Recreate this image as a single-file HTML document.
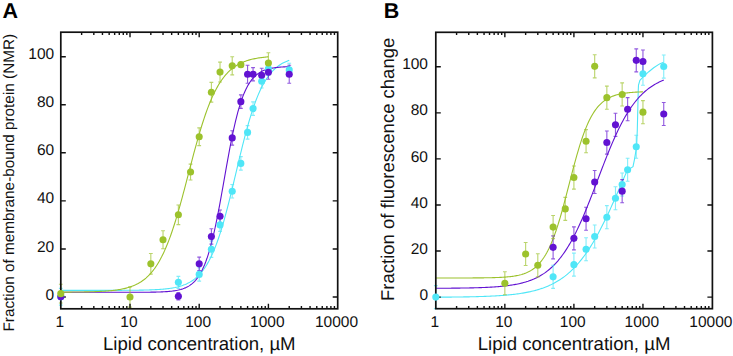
<!DOCTYPE html>
<html><head><meta charset="utf-8"><style>
html,body{margin:0;padding:0;background:#fff;}
svg{display:block;}
text{font-family:"Liberation Sans",sans-serif;fill:#111;text-rendering:geometricPrecision;}
.tk{font-size:15.5px;}
.xt{font-size:18.6px;}
.pl{font-size:21.5px;font-weight:bold;fill:#000;}
.yta{font-size:15.3px;}
.ytb{font-size:18.5px;}
</style></head><body>
<svg width="733" height="356" viewBox="0 0 733 356">
<rect width="733" height="356" fill="#fff"/>
<text x="54.20" y="299.60" text-anchor="end" class="tk">0</text>
<text x="54.20" y="251.54" text-anchor="end" class="tk">20</text>
<text x="54.20" y="203.48" text-anchor="end" class="tk">40</text>
<text x="54.20" y="155.42" text-anchor="end" class="tk">60</text>
<text x="54.20" y="107.36" text-anchor="end" class="tk">80</text>
<text x="54.20" y="59.30" text-anchor="end" class="tk">100</text>
<text x="59.70" y="326.6" text-anchor="middle" class="tk">1</text>
<text x="128.90" y="326.6" text-anchor="middle" class="tk">10</text>
<text x="198.10" y="326.6" text-anchor="middle" class="tk">100</text>
<text x="267.30" y="326.6" text-anchor="middle" class="tk">1000</text>
<text x="336.50" y="326.6" text-anchor="middle" class="tk">10000</text>
<text x="428.00" y="299.70" text-anchor="end" class="tk">0</text>
<text x="428.00" y="253.64" text-anchor="end" class="tk">20</text>
<text x="428.00" y="207.58" text-anchor="end" class="tk">40</text>
<text x="428.00" y="161.52" text-anchor="end" class="tk">60</text>
<text x="428.00" y="115.46" text-anchor="end" class="tk">80</text>
<text x="428.00" y="69.40" text-anchor="end" class="tk">100</text>
<text x="434.70" y="326.6" text-anchor="middle" class="tk">1</text>
<text x="503.75" y="326.6" text-anchor="middle" class="tk">10</text>
<text x="572.80" y="326.6" text-anchor="middle" class="tk">100</text>
<text x="641.85" y="326.6" text-anchor="middle" class="tk">1000</text>
<text x="710.90" y="326.6" text-anchor="middle" class="tk">10000</text>
<path d="M60.80,290.39 L61.94,290.39 L63.08,290.39 L64.23,290.39 L65.37,290.39 L66.51,290.39 L67.65,290.39 L68.80,290.39 L69.94,290.39 L71.08,290.39 L72.22,290.39 L73.36,290.39 L74.51,290.39 L75.65,290.39 L76.79,290.39 L77.93,290.39 L79.07,290.39 L80.22,290.39 L81.36,290.39 L82.50,290.39 L83.64,290.39 L84.79,290.39 L85.93,290.39 L87.07,290.39 L88.21,290.39 L89.35,290.39 L90.50,290.38 L91.64,290.38 L92.78,290.38 L93.92,290.38 L95.06,290.38 L96.21,290.38 L97.35,290.38 L98.49,290.38 L99.63,290.38 L100.78,290.38 L101.92,290.38 L103.06,290.38 L104.20,290.37 L105.34,290.37 L106.49,290.37 L107.63,290.37 L108.77,290.37 L109.91,290.36 L111.05,290.36 L112.20,290.36 L113.34,290.36 L114.48,290.35 L115.62,290.35 L116.77,290.35 L117.91,290.34 L119.05,290.34 L120.19,290.33 L121.33,290.33 L122.48,290.32 L123.62,290.32 L124.76,290.31 L125.90,290.31 L127.05,290.30 L128.19,290.29 L129.33,290.28 L130.47,290.27 L131.61,290.26 L132.76,290.25 L133.90,290.24 L135.04,290.23 L136.18,290.21 L137.32,290.20 L138.47,290.18 L139.61,290.16 L140.75,290.14 L141.89,290.12 L143.04,290.10 L144.18,290.07 L145.32,290.04 L146.46,290.01 L147.60,289.98 L148.75,289.95 L149.89,289.91 L151.03,289.87 L152.17,289.82 L153.31,289.78 L154.46,289.72 L155.60,289.67 L156.74,289.60 L157.88,289.54 L159.03,289.46 L160.17,289.38 L161.31,289.30 L162.45,289.21 L163.59,289.10 L164.74,289.00 L165.88,288.88 L167.02,288.75 L168.16,288.61 L169.30,288.46 L170.45,288.29 L171.59,288.12 L172.73,287.92 L173.87,287.71 L175.02,287.49 L176.16,287.24 L177.30,286.98 L178.44,286.69 L179.58,286.38 L180.73,286.04 L181.87,285.68 L183.01,285.28 L184.15,284.85 L185.30,284.39 L186.44,283.89 L187.58,283.35 L188.72,282.77 L189.86,282.14 L191.01,281.46 L192.15,280.73 L193.29,279.94 L194.43,279.09 L195.57,278.17 L196.72,277.19 L197.86,276.13 L199.00,274.99 L200.14,273.76 L201.29,272.45 L202.43,271.04 L203.57,269.53 L204.71,267.92 L205.85,266.19 L207.00,264.35 L208.14,262.39 L209.28,260.30 L210.42,258.08 L211.56,255.72 L212.71,253.22 L213.85,250.58 L214.99,247.79 L216.13,244.85 L217.28,241.76 L218.42,238.52 L219.56,235.13 L220.70,231.58 L221.84,227.89 L222.99,224.05 L224.13,220.07 L225.27,215.96 L226.41,211.72 L227.55,207.36 L228.70,202.90 L229.84,198.35 L230.98,193.71 L232.12,189.01 L233.27,184.25 L234.41,179.45 L235.55,174.63 L236.69,169.81 L237.83,165.00 L238.98,160.21 L240.12,155.46 L241.26,150.77 L242.40,146.15 L243.55,141.62 L244.69,137.19 L245.83,132.86 L246.97,128.65 L248.11,124.58 L249.26,120.63 L250.40,116.83 L251.54,113.17 L252.68,109.66 L253.82,106.31 L254.97,103.10 L256.11,100.05 L257.25,97.15 L258.39,94.40 L259.54,91.79 L260.68,89.33 L261.82,87.01 L262.96,84.82 L264.10,82.76 L265.25,80.83 L266.39,79.02 L267.53,77.32 L268.67,75.73 L269.81,74.25 L270.96,72.87 L272.10,71.57 L273.24,70.37 L274.38,69.25 L275.53,68.21 L276.67,67.24 L277.81,66.34 L278.95,65.51 L280.09,64.73 L281.24,64.01 L282.38,63.35 L283.52,62.73 L284.66,62.16 L285.80,61.63 L286.95,61.14 L288.09,60.69 L289.23,60.27" stroke="#4fe6f7" stroke-width="1.1" fill="none"/>
<path d="M60.80,292.31 L61.94,292.31 L63.08,292.31 L64.23,292.31 L65.37,292.31 L66.51,292.31 L67.65,292.31 L68.80,292.31 L69.94,292.31 L71.08,292.31 L72.22,292.31 L73.36,292.31 L74.51,292.31 L75.65,292.31 L76.79,292.31 L77.93,292.31 L79.07,292.31 L80.22,292.31 L81.36,292.31 L82.50,292.31 L83.64,292.31 L84.79,292.31 L85.93,292.31 L87.07,292.31 L88.21,292.31 L89.35,292.31 L90.50,292.31 L91.64,292.31 L92.78,292.31 L93.92,292.31 L95.06,292.31 L96.21,292.31 L97.35,292.31 L98.49,292.31 L99.63,292.31 L100.78,292.31 L101.92,292.31 L103.06,292.31 L104.20,292.31 L105.34,292.31 L106.49,292.31 L107.63,292.31 L108.77,292.31 L109.91,292.31 L111.05,292.31 L112.20,292.31 L113.34,292.31 L114.48,292.31 L115.62,292.31 L116.77,292.31 L117.91,292.31 L119.05,292.31 L120.19,292.31 L121.33,292.31 L122.48,292.31 L123.62,292.30 L124.76,292.30 L125.90,292.30 L127.05,292.30 L128.19,292.30 L129.33,292.30 L130.47,292.30 L131.61,292.29 L132.76,292.29 L133.90,292.29 L135.04,292.29 L136.18,292.28 L137.32,292.28 L138.47,292.27 L139.61,292.27 L140.75,292.26 L141.89,292.26 L143.04,292.25 L144.18,292.24 L145.32,292.23 L146.46,292.22 L147.60,292.21 L148.75,292.20 L149.89,292.19 L151.03,292.17 L152.17,292.15 L153.31,292.13 L154.46,292.11 L155.60,292.09 L156.74,292.06 L157.88,292.03 L159.03,291.99 L160.17,291.95 L161.31,291.91 L162.45,291.86 L163.59,291.80 L164.74,291.74 L165.88,291.67 L167.02,291.60 L168.16,291.51 L169.30,291.41 L170.45,291.30 L171.59,291.18 L172.73,291.04 L173.87,290.89 L175.02,290.72 L176.16,290.52 L177.30,290.31 L178.44,290.07 L179.58,289.79 L180.73,289.49 L181.87,289.15 L183.01,288.78 L184.15,288.35 L185.30,287.88 L186.44,287.35 L187.58,286.76 L188.72,286.11 L189.86,285.38 L191.01,284.56 L192.15,283.65 L193.29,282.65 L194.43,281.53 L195.57,280.28 L196.72,278.91 L197.86,277.38 L199.00,275.70 L200.14,273.85 L201.29,271.80 L202.43,269.56 L203.57,267.10 L204.71,264.42 L205.85,261.49 L207.00,258.30 L208.14,254.85 L209.28,251.12 L210.42,247.12 L211.56,242.82 L212.71,238.24 L213.85,233.38 L214.99,228.25 L216.13,222.85 L217.28,217.21 L218.42,211.35 L219.56,205.29 L220.70,199.07 L221.84,192.73 L222.99,186.30 L224.13,179.82 L225.27,173.35 L226.41,166.91 L227.55,160.55 L228.70,154.31 L229.84,148.22 L230.98,142.33 L232.12,136.65 L233.27,131.21 L234.41,126.04 L235.55,121.13 L236.69,116.51 L237.83,112.17 L238.98,108.12 L240.12,104.35 L241.26,100.85 L242.40,97.63 L243.55,94.66 L244.69,91.93 L245.83,89.44 L246.97,87.16 L248.11,85.09 L249.26,83.20 L250.40,81.50 L251.54,79.95 L252.68,78.55 L253.82,77.29 L254.97,76.15 L256.11,75.12 L257.25,74.20 L258.39,73.37 L259.54,72.63 L260.68,71.96 L261.82,71.36 L262.96,70.83 L264.10,70.35 L265.25,69.91 L266.39,69.53 L267.53,69.19 L268.67,68.88 L269.81,68.60 L270.96,68.36 L272.10,68.14 L273.24,67.94 L274.38,67.76 L275.53,67.61 L276.67,67.47 L277.81,67.34 L278.95,67.23 L280.09,67.13 L281.24,67.04 L282.38,66.96 L283.52,66.89 L284.66,66.83 L285.80,66.77 L286.95,66.72 L288.09,66.68 L289.23,66.64" stroke="#6212d2" stroke-width="1.1" fill="none"/>
<path d="M60.80,292.13 L61.84,292.13 L62.88,292.13 L63.91,292.12 L64.95,292.12 L65.99,292.11 L67.03,292.10 L68.07,292.10 L69.10,292.09 L70.14,292.08 L71.18,292.08 L72.22,292.07 L73.26,292.06 L74.29,292.05 L75.33,292.04 L76.37,292.03 L77.41,292.02 L78.45,292.01 L79.48,291.99 L80.52,291.98 L81.56,291.96 L82.60,291.95 L83.64,291.93 L84.67,291.91 L85.71,291.89 L86.75,291.87 L87.79,291.85 L88.83,291.83 L89.86,291.80 L90.90,291.77 L91.94,291.74 L92.98,291.71 L94.02,291.68 L95.05,291.64 L96.09,291.60 L97.13,291.56 L98.17,291.52 L99.21,291.47 L100.24,291.42 L101.28,291.37 L102.32,291.31 L103.36,291.25 L104.40,291.18 L105.43,291.11 L106.47,291.04 L107.51,290.96 L108.55,290.87 L109.59,290.78 L110.62,290.69 L111.66,290.58 L112.70,290.47 L113.74,290.35 L114.78,290.22 L115.81,290.09 L116.85,289.94 L117.89,289.79 L118.93,289.62 L119.97,289.44 L121.00,289.25 L122.04,289.05 L123.08,288.83 L124.12,288.60 L125.16,288.36 L126.19,288.10 L127.23,287.82 L128.27,287.52 L129.31,287.20 L130.35,286.86 L131.38,286.49 L132.42,286.11 L133.46,285.69 L134.50,285.26 L135.54,284.79 L136.57,284.29 L137.61,283.76 L138.65,283.19 L139.69,282.59 L140.73,281.95 L141.76,281.27 L142.80,280.54 L143.84,279.78 L144.88,278.96 L145.92,278.09 L146.95,277.17 L147.99,276.20 L149.03,275.16 L150.07,274.07 L151.11,272.91 L152.14,271.68 L153.18,270.38 L154.22,269.01 L155.26,267.56 L156.30,266.04 L157.33,264.43 L158.37,262.73 L159.41,260.95 L160.45,259.08 L161.49,257.12 L162.52,255.05 L163.56,252.90 L164.60,250.64 L165.64,248.28 L166.68,245.82 L167.71,243.26 L168.75,240.59 L169.79,237.82 L170.83,234.95 L171.87,231.98 L172.90,228.90 L173.94,225.73 L174.98,222.47 L176.02,219.11 L177.06,215.66 L178.09,212.13 L179.13,208.53 L180.17,204.85 L181.21,201.11 L182.25,197.31 L183.28,193.45 L184.32,189.56 L185.36,185.62 L186.40,181.67 L187.44,177.69 L188.47,173.71 L189.51,169.72 L190.55,165.75 L191.59,161.79 L192.63,157.86 L193.66,153.97 L194.70,150.12 L195.74,146.32 L196.78,142.58 L197.82,138.91 L198.85,135.31 L199.89,131.79 L200.93,128.35 L201.97,125.00 L203.01,121.74 L204.04,118.57 L205.08,115.50 L206.12,112.54 L207.16,109.67 L208.20,106.91 L209.23,104.25 L210.27,101.70 L211.31,99.24 L212.35,96.89 L213.39,94.64 L214.42,92.49 L215.46,90.44 L216.50,88.48 L217.54,86.61 L218.58,84.84 L219.61,83.15 L220.65,81.55 L221.69,80.03 L222.73,78.58 L223.77,77.22 L224.80,75.93 L225.84,74.70 L226.88,73.55 L227.92,72.46 L228.96,71.43 L229.99,70.45 L231.03,69.54 L232.07,68.67 L233.11,67.86 L234.15,67.10 L235.18,66.38 L236.22,65.70 L237.26,65.06 L238.30,64.46 L239.34,63.90 L240.37,63.37 L241.41,62.87 L242.45,62.41 L243.49,61.97 L244.53,61.56 L245.56,61.17 L246.60,60.81 L247.64,60.47 L248.68,60.15 L249.72,59.86 L250.75,59.58 L251.79,59.32 L252.83,59.07 L253.87,58.84 L254.91,58.63 L255.94,58.43 L256.98,58.24 L258.02,58.06 L259.06,57.90 L260.10,57.74 L261.13,57.60 L262.17,57.46 L263.21,57.33 L264.25,57.22 L265.29,57.10 L266.32,57.00 L267.36,56.90 L268.40,56.81" stroke="#9cc22c" stroke-width="1.1" fill="none"/>
<path d="M435.80,297.20 L437.08,297.19 L438.36,297.18 L439.64,297.18 L440.92,297.17 L442.19,297.16 L443.47,297.15 L444.75,297.14 L446.03,297.13 L447.31,297.12 L448.59,297.11 L449.87,297.10 L451.15,297.08 L452.43,297.07 L453.70,297.06 L454.98,297.04 L456.26,297.03 L457.54,297.01 L458.82,297.00 L460.10,296.98 L461.38,296.96 L462.66,296.94 L463.94,296.92 L465.21,296.90 L466.49,296.88 L467.77,296.85 L469.05,296.83 L470.33,296.80 L471.61,296.77 L472.89,296.74 L474.17,296.71 L475.45,296.68 L476.72,296.65 L478.00,296.61 L479.28,296.57 L480.56,296.54 L481.84,296.49 L483.12,296.45 L484.40,296.40 L485.68,296.36 L486.96,296.30 L488.23,296.25 L489.51,296.19 L490.79,296.14 L492.07,296.07 L493.35,296.01 L494.63,295.94 L495.91,295.87 L497.19,295.79 L498.46,295.71 L499.74,295.62 L501.02,295.54 L502.30,295.44 L503.58,295.34 L504.86,295.24 L506.14,295.13 L507.42,295.02 L508.70,294.90 L509.97,294.77 L511.25,294.64 L512.53,294.50 L513.81,294.35 L515.09,294.20 L516.37,294.03 L517.65,293.86 L518.93,293.69 L520.21,293.50 L521.48,293.30 L522.76,293.09 L524.04,292.87 L525.32,292.64 L526.60,292.40 L527.88,292.15 L529.16,291.88 L530.44,291.61 L531.72,291.31 L532.99,291.01 L534.27,290.68 L535.55,290.35 L536.83,289.99 L538.11,289.62 L539.39,289.23 L540.67,288.82 L541.95,288.39 L543.23,287.94 L544.50,287.46 L545.78,286.97 L547.06,286.45 L548.34,285.91 L549.62,285.34 L550.90,284.75 L552.18,284.12 L553.46,283.47 L554.74,282.79 L556.01,282.08 L557.29,281.33 L558.57,280.55 L559.85,279.74 L561.13,278.89 L562.41,278.00 L563.69,277.07 L564.97,276.11 L566.25,275.10 L567.52,274.05 L568.80,272.96 L570.08,271.82 L571.36,270.64 L572.64,269.41 L573.92,268.13 L575.20,266.79 L576.48,265.41 L577.76,263.98 L579.03,262.49 L580.31,260.95 L581.59,259.36 L582.87,257.71 L584.15,256.00 L585.43,254.23 L586.71,252.41 L587.99,250.53 L589.27,248.60 L590.54,246.60 L591.82,244.55 L593.10,242.43 L594.38,240.26 L595.66,238.04 L596.94,235.76 L598.22,233.42 L599.50,231.03 L600.77,228.59 L602.05,226.09 L603.33,223.55 L604.61,220.96 L605.89,218.32 L607.17,215.64 L608.45,212.93 L609.73,210.17 L611.01,207.38 L612.28,204.56 L613.56,201.71 L614.84,198.83 L616.12,195.93 L617.40,193.02 L618.68,190.09 L619.96,187.15 L621.24,184.20 L622.52,181.25 L623.79,178.31 L625.07,175.36 L626.35,172.43 L627.63,169.51 L630.00,168.60 L633.00,166.60 L634.50,159.30 L635.80,151.50 L636.60,146.50 L637.30,130.00 L637.90,105.00 L638.20,92.00 L638.50,85.00 L639.90,80.30 L643.90,76.20 L648.80,71.70 L653.70,67.80 L659.60,63.90 L663.50,62.20" stroke="#4fe6f7" stroke-width="1.1" fill="none"/>
<path d="M435.80,288.26 L436.94,288.26 L438.08,288.25 L439.22,288.25 L440.36,288.24 L441.50,288.24 L442.64,288.23 L443.78,288.23 L444.92,288.22 L446.06,288.21 L447.20,288.20 L448.34,288.19 L449.48,288.19 L450.62,288.18 L451.76,288.17 L452.90,288.16 L454.03,288.15 L455.17,288.13 L456.31,288.12 L457.45,288.11 L458.59,288.10 L459.73,288.08 L460.87,288.07 L462.01,288.05 L463.15,288.03 L464.29,288.01 L465.43,288.00 L466.57,287.98 L467.71,287.95 L468.85,287.93 L469.99,287.91 L471.13,287.88 L472.27,287.86 L473.41,287.83 L474.55,287.80 L475.69,287.77 L476.83,287.74 L477.97,287.70 L479.11,287.66 L480.25,287.63 L481.39,287.58 L482.53,287.54 L483.67,287.49 L484.81,287.45 L485.95,287.40 L487.09,287.34 L488.23,287.28 L489.36,287.22 L490.50,287.16 L491.64,287.09 L492.78,287.02 L493.92,286.95 L495.06,286.87 L496.20,286.78 L497.34,286.70 L498.48,286.60 L499.62,286.50 L500.76,286.40 L501.90,286.29 L503.04,286.18 L504.18,286.05 L505.32,285.92 L506.46,285.79 L507.60,285.64 L508.74,285.49 L509.88,285.33 L511.02,285.16 L512.16,284.98 L513.30,284.80 L514.44,284.60 L515.58,284.39 L516.72,284.17 L517.86,283.93 L519.00,283.69 L520.14,283.43 L521.28,283.15 L522.42,282.87 L523.56,282.56 L524.70,282.24 L525.83,281.91 L526.97,281.55 L528.11,281.18 L529.25,280.78 L530.39,280.37 L531.53,279.93 L532.67,279.47 L533.81,278.99 L534.95,278.48 L536.09,277.95 L537.23,277.39 L538.37,276.79 L539.51,276.17 L540.65,275.52 L541.79,274.84 L542.93,274.12 L544.07,273.37 L545.21,272.58 L546.35,271.75 L547.49,270.88 L548.63,269.97 L549.77,269.02 L550.91,268.02 L552.05,266.98 L553.19,265.89 L554.33,264.75 L555.47,263.56 L556.61,262.32 L557.75,261.03 L558.89,259.68 L560.03,258.27 L561.16,256.81 L562.30,255.29 L563.44,253.71 L564.58,252.07 L565.72,250.37 L566.86,248.60 L568.00,246.78 L569.14,244.89 L570.28,242.93 L571.42,240.91 L572.56,238.83 L573.70,236.69 L574.84,234.48 L575.98,232.21 L577.12,229.87 L578.26,227.48 L579.40,225.03 L580.54,222.52 L581.68,219.96 L582.82,217.35 L583.96,214.68 L585.10,211.97 L586.24,209.21 L587.38,206.41 L588.52,203.57 L589.66,200.70 L590.80,197.80 L591.94,194.87 L593.08,191.92 L594.22,188.95 L595.36,185.97 L596.49,182.98 L597.63,179.98 L598.77,176.98 L599.91,173.99 L601.05,171.01 L602.19,168.04 L603.33,165.09 L604.47,162.16 L605.61,159.26 L606.75,156.39 L607.89,153.56 L609.03,150.76 L610.17,148.00 L611.31,145.29 L612.45,142.63 L613.59,140.01 L614.73,137.45 L615.87,134.95 L617.01,132.50 L618.15,130.11 L619.29,127.78 L620.43,125.51 L621.57,123.31 L622.71,121.16 L623.85,119.08 L624.99,117.07 L626.13,115.12 L627.27,113.23 L628.41,111.40 L629.55,109.64 L630.69,107.94 L631.83,106.30 L632.96,104.73 L634.10,103.21 L635.24,101.75 L636.38,100.35 L637.52,99.00 L638.66,97.71 L639.80,96.47 L640.94,95.28 L642.08,94.14 L643.22,93.06 L644.36,92.02 L645.50,91.02 L646.64,90.07 L647.78,89.16 L648.92,88.30 L650.06,87.47 L651.20,86.68 L652.34,85.93 L653.48,85.21 L654.62,84.53 L655.76,83.88 L656.90,83.26 L658.04,82.67 L659.18,82.11 L660.32,81.58 L661.46,81.07 L662.60,80.59 L663.74,80.13" stroke="#6212d2" stroke-width="1.1" fill="none"/>
<path d="M435.80,277.98 L436.84,277.98 L437.87,277.98 L438.91,277.98 L439.94,277.98 L440.98,277.98 L442.01,277.98 L443.05,277.98 L444.09,277.98 L445.12,277.98 L446.16,277.98 L447.19,277.98 L448.23,277.98 L449.26,277.98 L450.30,277.98 L451.34,277.97 L452.37,277.97 L453.41,277.97 L454.44,277.97 L455.48,277.97 L456.51,277.97 L457.55,277.97 L458.59,277.97 L459.62,277.96 L460.66,277.96 L461.69,277.96 L462.73,277.96 L463.77,277.96 L464.80,277.95 L465.84,277.95 L466.87,277.95 L467.91,277.94 L468.94,277.94 L469.98,277.94 L471.02,277.93 L472.05,277.93 L473.09,277.92 L474.12,277.92 L475.16,277.91 L476.19,277.90 L477.23,277.90 L478.27,277.89 L479.30,277.88 L480.34,277.87 L481.37,277.86 L482.41,277.85 L483.44,277.84 L484.48,277.82 L485.52,277.81 L486.55,277.79 L487.59,277.77 L488.62,277.76 L489.66,277.74 L490.69,277.71 L491.73,277.69 L492.77,277.66 L493.80,277.63 L494.84,277.60 L495.87,277.57 L496.91,277.53 L497.94,277.49 L498.98,277.44 L500.02,277.39 L501.05,277.34 L502.09,277.28 L503.12,277.22 L504.16,277.15 L505.20,277.08 L506.23,276.99 L507.27,276.90 L508.30,276.81 L509.34,276.70 L510.37,276.59 L511.41,276.46 L512.45,276.33 L513.48,276.18 L514.52,276.02 L515.55,275.84 L516.59,275.65 L517.62,275.44 L518.66,275.22 L519.70,274.97 L520.73,274.71 L521.77,274.42 L522.80,274.10 L523.84,273.76 L524.87,273.39 L525.91,272.98 L526.95,272.54 L527.98,272.07 L529.02,271.55 L530.05,271.00 L531.09,270.39 L532.12,269.74 L533.16,269.03 L534.20,268.26 L535.23,267.44 L536.27,266.54 L537.30,265.58 L538.34,264.54 L539.38,263.42 L540.41,262.22 L541.45,260.93 L542.48,259.54 L543.52,258.06 L544.55,256.47 L545.59,254.77 L546.63,252.96 L547.66,251.03 L548.70,248.97 L549.73,246.79 L550.77,244.49 L551.80,242.05 L552.84,239.47 L553.88,236.77 L554.91,233.93 L555.95,230.96 L556.98,227.86 L558.02,224.63 L559.05,221.28 L560.09,217.81 L561.13,214.24 L562.16,210.57 L563.20,206.81 L564.23,202.97 L565.27,199.07 L566.30,195.12 L567.34,191.12 L568.38,187.10 L569.41,183.08 L570.45,179.06 L571.48,175.06 L572.52,171.10 L573.55,167.18 L574.59,163.33 L575.63,159.56 L576.66,155.87 L577.70,152.28 L578.73,148.79 L579.77,145.42 L580.81,142.17 L581.84,139.04 L582.88,136.05 L583.91,133.18 L584.95,130.45 L585.98,127.85 L587.02,125.39 L588.06,123.06 L589.09,120.85 L590.13,118.78 L591.16,116.82 L592.20,114.99 L593.23,113.27 L594.27,111.66 L595.31,110.15 L596.34,108.75 L597.38,107.44 L598.41,106.22 L599.45,105.09 L600.48,104.04 L601.52,103.06 L602.56,102.15 L603.59,101.31 L604.63,100.54 L605.66,99.82 L606.70,99.15 L607.73,98.54 L608.77,97.97 L609.81,97.45 L610.84,96.97 L611.88,96.52 L612.91,96.11 L613.95,95.74 L614.98,95.39 L616.02,95.07 L617.06,94.77 L618.09,94.50 L619.13,94.25 L620.16,94.02 L621.20,93.81 L622.24,93.62 L623.27,93.44 L624.31,93.28 L625.34,93.13 L626.38,92.99 L627.41,92.86 L628.45,92.75 L629.49,92.64 L630.52,92.54 L631.56,92.45 L632.59,92.37 L633.63,92.29 L634.66,92.22 L635.70,92.16 L636.74,92.10 L637.77,92.04 L638.81,91.99 L639.84,91.95 L640.88,91.91 L641.91,91.87 L642.95,91.83" stroke="#9cc22c" stroke-width="1.1" fill="none"/>
<path d="M60.80,288.35 V305.17 M58.90,288.35 h3.8 M58.90,305.17 h3.8" stroke="#4fe6f7" stroke-width="1.1" stroke-opacity="0.7" fill="none"/>
<path d="M178.37,276.33 V288.35 M176.47,276.33 h3.8 M176.47,288.35 h3.8" stroke="#4fe6f7" stroke-width="1.1" stroke-opacity="0.7" fill="none"/>
<path d="M199.20,267.68 V281.14 M197.30,267.68 h3.8 M197.30,281.14 h3.8" stroke="#4fe6f7" stroke-width="1.1" stroke-opacity="0.7" fill="none"/>
<path d="M211.39,241.01 V257.35 M209.49,241.01 h3.8 M209.49,257.35 h3.8" stroke="#4fe6f7" stroke-width="1.1" stroke-opacity="0.7" fill="none"/>
<path d="M220.03,218.42 V231.40 M218.13,218.42 h3.8 M218.13,231.40 h3.8" stroke="#4fe6f7" stroke-width="1.1" stroke-opacity="0.7" fill="none"/>
<path d="M232.22,184.54 V198.00 M230.32,184.54 h3.8 M230.32,198.00 h3.8" stroke="#4fe6f7" stroke-width="1.1" stroke-opacity="0.7" fill="none"/>
<path d="M240.86,156.66 V170.12 M238.96,156.66 h3.8 M238.96,170.12 h3.8" stroke="#4fe6f7" stroke-width="1.1" stroke-opacity="0.7" fill="none"/>
<path d="M247.57,125.67 V139.12 M245.67,125.67 h3.8 M245.67,139.12 h3.8" stroke="#4fe6f7" stroke-width="1.1" stroke-opacity="0.7" fill="none"/>
<path d="M253.05,101.88 V115.33 M251.15,101.88 h3.8 M251.15,115.33 h3.8" stroke="#4fe6f7" stroke-width="1.1" stroke-opacity="0.7" fill="none"/>
<path d="M261.69,74.48 V87.94 M259.79,74.48 h3.8 M259.79,87.94 h3.8" stroke="#4fe6f7" stroke-width="1.1" stroke-opacity="0.7" fill="none"/>
<path d="M268.40,61.99 V75.44 M266.50,61.99 h3.8 M266.50,75.44 h3.8" stroke="#4fe6f7" stroke-width="1.1" stroke-opacity="0.7" fill="none"/>
<path d="M289.23,63.31 V76.52 M287.33,63.31 h3.8 M287.33,76.52 h3.8" stroke="#4fe6f7" stroke-width="1.1" stroke-opacity="0.7" fill="none"/>
<path d="M60.80,294.36 V299.16 M58.90,294.36 h3.8 M58.90,299.16 h3.8" stroke="#6212d2" stroke-width="1.1" stroke-opacity="0.7" fill="none"/>
<path d="M178.37,292.67 V299.88 M176.47,292.67 h3.8 M176.47,299.88 h3.8" stroke="#6212d2" stroke-width="1.1" stroke-opacity="0.7" fill="none"/>
<path d="M199.20,257.11 V270.57 M197.30,257.11 h3.8 M197.30,270.57 h3.8" stroke="#6212d2" stroke-width="1.1" stroke-opacity="0.7" fill="none"/>
<path d="M211.39,228.75 V244.13 M209.49,228.75 h3.8 M209.49,244.13 h3.8" stroke="#6212d2" stroke-width="1.1" stroke-opacity="0.7" fill="none"/>
<path d="M220.03,210.01 V222.51 M218.13,210.01 h3.8 M218.13,222.51 h3.8" stroke="#6212d2" stroke-width="1.1" stroke-opacity="0.7" fill="none"/>
<path d="M232.22,130.71 V145.13 M230.32,130.71 h3.8 M230.32,145.13 h3.8" stroke="#6212d2" stroke-width="1.1" stroke-opacity="0.7" fill="none"/>
<path d="M240.86,94.91 V108.36 M238.96,94.91 h3.8 M238.96,108.36 h3.8" stroke="#6212d2" stroke-width="1.1" stroke-opacity="0.7" fill="none"/>
<path d="M247.57,65.23 V83.25 M245.67,65.23 h3.8 M245.67,83.25 h3.8" stroke="#6212d2" stroke-width="1.1" stroke-opacity="0.7" fill="none"/>
<path d="M253.05,67.63 V80.85 M251.15,67.63 h3.8 M251.15,80.85 h3.8" stroke="#6212d2" stroke-width="1.1" stroke-opacity="0.7" fill="none"/>
<path d="M261.69,68.23 V82.17 M259.79,68.23 h3.8 M259.79,82.17 h3.8" stroke="#6212d2" stroke-width="1.1" stroke-opacity="0.7" fill="none"/>
<path d="M268.40,65.35 V79.29 M266.50,65.35 h3.8 M266.50,79.29 h3.8" stroke="#6212d2" stroke-width="1.1" stroke-opacity="0.7" fill="none"/>
<path d="M289.23,65.23 V83.25 M287.33,65.23 h3.8 M287.33,83.25 h3.8" stroke="#6212d2" stroke-width="1.1" stroke-opacity="0.7" fill="none"/>
<path d="M60.80,284.26 V303.01 M58.90,284.26 h3.8 M58.90,303.01 h3.8" stroke="#9cc22c" stroke-width="1.1" stroke-opacity="0.7" fill="none"/>
<path d="M130.00,286.91 V307.09 M128.10,286.91 h3.8 M128.10,307.09 h3.8" stroke="#9cc22c" stroke-width="1.1" stroke-opacity="0.7" fill="none"/>
<path d="M150.83,253.51 V274.17 M148.93,253.51 h3.8 M148.93,274.17 h3.8" stroke="#9cc22c" stroke-width="1.1" stroke-opacity="0.7" fill="none"/>
<path d="M163.02,230.80 V248.82 M161.12,230.80 h3.8 M161.12,248.82 h3.8" stroke="#9cc22c" stroke-width="1.1" stroke-opacity="0.7" fill="none"/>
<path d="M178.37,204.97 V224.67 M176.47,204.97 h3.8 M176.47,224.67 h3.8" stroke="#9cc22c" stroke-width="1.1" stroke-opacity="0.7" fill="none"/>
<path d="M190.55,164.11 V179.97 M188.65,164.11 h3.8 M188.65,179.97 h3.8" stroke="#9cc22c" stroke-width="1.1" stroke-opacity="0.7" fill="none"/>
<path d="M199.20,127.83 V145.61 M197.30,127.83 h3.8 M197.30,145.61 h3.8" stroke="#9cc22c" stroke-width="1.1" stroke-opacity="0.7" fill="none"/>
<path d="M211.39,82.41 V102.12 M209.49,82.41 h3.8 M209.49,102.12 h3.8" stroke="#9cc22c" stroke-width="1.1" stroke-opacity="0.7" fill="none"/>
<path d="M220.03,62.11 V82.05 M218.13,62.11 h3.8 M218.13,82.05 h3.8" stroke="#9cc22c" stroke-width="1.1" stroke-opacity="0.7" fill="none"/>
<path d="M232.22,56.82 V74.84 M230.32,56.82 h3.8 M230.32,74.84 h3.8" stroke="#9cc22c" stroke-width="1.1" stroke-opacity="0.7" fill="none"/>
<path d="M240.86,62.23 V67.03 M238.96,62.23 h3.8 M238.96,67.03 h3.8" stroke="#9cc22c" stroke-width="1.1" stroke-opacity="0.7" fill="none"/>
<path d="M268.40,52.74 V73.16 M266.50,52.74 h3.8 M266.50,73.16 h3.8" stroke="#9cc22c" stroke-width="1.1" stroke-opacity="0.7" fill="none"/>
<path d="M435.80,285.59 V308.62 M433.90,285.59 h3.8 M433.90,308.62 h3.8" stroke="#4fe6f7" stroke-width="1.1" stroke-opacity="0.7" fill="none"/>
<path d="M553.11,265.32 V288.35 M551.21,265.32 h3.8 M551.21,288.35 h3.8" stroke="#4fe6f7" stroke-width="1.1" stroke-opacity="0.7" fill="none"/>
<path d="M573.90,253.11 V276.14 M572.00,253.11 h3.8 M572.00,276.14 h3.8" stroke="#4fe6f7" stroke-width="1.1" stroke-opacity="0.7" fill="none"/>
<path d="M586.06,237.68 V260.71 M584.16,237.68 h3.8 M584.16,260.71 h3.8" stroke="#4fe6f7" stroke-width="1.1" stroke-opacity="0.7" fill="none"/>
<path d="M594.69,225.02 V248.05 M592.79,225.02 h3.8 M592.79,248.05 h3.8" stroke="#4fe6f7" stroke-width="1.1" stroke-opacity="0.7" fill="none"/>
<path d="M606.85,205.67 V228.70 M604.95,205.67 h3.8 M604.95,228.70 h3.8" stroke="#4fe6f7" stroke-width="1.1" stroke-opacity="0.7" fill="none"/>
<path d="M615.47,186.79 V209.82 M613.57,186.79 h3.8 M613.57,209.82 h3.8" stroke="#4fe6f7" stroke-width="1.1" stroke-opacity="0.7" fill="none"/>
<path d="M622.16,172.97 V196.00 M620.26,172.97 h3.8 M620.26,196.00 h3.8" stroke="#4fe6f7" stroke-width="1.1" stroke-opacity="0.7" fill="none"/>
<path d="M627.63,158.23 V181.26 M625.73,158.23 h3.8 M625.73,181.26 h3.8" stroke="#4fe6f7" stroke-width="1.1" stroke-opacity="0.7" fill="none"/>
<path d="M636.26,135.20 V158.23 M634.36,135.20 h3.8 M634.36,158.23 h3.8" stroke="#4fe6f7" stroke-width="1.1" stroke-opacity="0.7" fill="none"/>
<path d="M642.95,62.19 V85.22 M641.05,62.19 h3.8 M641.05,85.22 h3.8" stroke="#4fe6f7" stroke-width="1.1" stroke-opacity="0.7" fill="none"/>
<path d="M663.74,55.05 V78.08 M661.84,55.05 h3.8 M661.84,78.08 h3.8" stroke="#4fe6f7" stroke-width="1.1" stroke-opacity="0.7" fill="none"/>
<path d="M553.11,235.84 V258.87 M551.21,235.84 h3.8 M551.21,258.87 h3.8" stroke="#6212d2" stroke-width="1.1" stroke-opacity="0.7" fill="none"/>
<path d="M573.90,226.86 V249.89 M572.00,226.86 h3.8 M572.00,249.89 h3.8" stroke="#6212d2" stroke-width="1.1" stroke-opacity="0.7" fill="none"/>
<path d="M586.06,207.28 V230.31 M584.16,207.28 h3.8 M584.16,230.31 h3.8" stroke="#6212d2" stroke-width="1.1" stroke-opacity="0.7" fill="none"/>
<path d="M594.69,170.44 V193.47 M592.79,170.44 h3.8 M592.79,193.47 h3.8" stroke="#6212d2" stroke-width="1.1" stroke-opacity="0.7" fill="none"/>
<path d="M606.85,131.05 V154.08 M604.95,131.05 h3.8 M604.95,154.08 h3.8" stroke="#6212d2" stroke-width="1.1" stroke-opacity="0.7" fill="none"/>
<path d="M615.47,113.32 V136.35 M613.57,113.32 h3.8 M613.57,136.35 h3.8" stroke="#6212d2" stroke-width="1.1" stroke-opacity="0.7" fill="none"/>
<path d="M622.16,179.65 V202.68 M620.26,179.65 h3.8 M620.26,202.68 h3.8" stroke="#6212d2" stroke-width="1.1" stroke-opacity="0.7" fill="none"/>
<path d="M627.63,97.66 V120.69 M625.73,97.66 h3.8 M625.73,120.69 h3.8" stroke="#6212d2" stroke-width="1.1" stroke-opacity="0.7" fill="none"/>
<path d="M636.26,48.84 V71.87 M634.36,48.84 h3.8 M634.36,71.87 h3.8" stroke="#6212d2" stroke-width="1.1" stroke-opacity="0.7" fill="none"/>
<path d="M642.95,49.99 V73.02 M641.05,49.99 h3.8 M641.05,73.02 h3.8" stroke="#6212d2" stroke-width="1.1" stroke-opacity="0.7" fill="none"/>
<path d="M663.74,102.50 V125.53 M661.84,102.50 h3.8 M661.84,125.53 h3.8" stroke="#6212d2" stroke-width="1.1" stroke-opacity="0.7" fill="none"/>
<path d="M504.85,271.77 V294.80 M502.95,271.77 h3.8 M502.95,294.80 h3.8" stroke="#9cc22c" stroke-width="1.1" stroke-opacity="0.7" fill="none"/>
<path d="M525.64,242.52 V265.55 M523.74,242.52 h3.8 M523.74,265.55 h3.8" stroke="#9cc22c" stroke-width="1.1" stroke-opacity="0.7" fill="none"/>
<path d="M537.80,253.80 V276.83 M535.90,253.80 h3.8 M535.90,276.83 h3.8" stroke="#9cc22c" stroke-width="1.1" stroke-opacity="0.7" fill="none"/>
<path d="M553.11,215.57 V238.60 M551.21,215.57 h3.8 M551.21,238.60 h3.8" stroke="#9cc22c" stroke-width="1.1" stroke-opacity="0.7" fill="none"/>
<path d="M565.27,197.38 V220.41 M563.37,197.38 h3.8 M563.37,220.41 h3.8" stroke="#9cc22c" stroke-width="1.1" stroke-opacity="0.7" fill="none"/>
<path d="M573.90,166.06 V189.09 M572.00,166.06 h3.8 M572.00,189.09 h3.8" stroke="#9cc22c" stroke-width="1.1" stroke-opacity="0.7" fill="none"/>
<path d="M586.06,129.67 V152.70 M584.16,129.67 h3.8 M584.16,152.70 h3.8" stroke="#9cc22c" stroke-width="1.1" stroke-opacity="0.7" fill="none"/>
<path d="M594.69,54.82 V77.85 M592.79,54.82 h3.8 M592.79,77.85 h3.8" stroke="#9cc22c" stroke-width="1.1" stroke-opacity="0.7" fill="none"/>
<path d="M606.85,86.15 V109.18 M604.95,86.15 h3.8 M604.95,109.18 h3.8" stroke="#9cc22c" stroke-width="1.1" stroke-opacity="0.7" fill="none"/>
<path d="M622.16,82.92 V105.95 M620.26,82.92 h3.8 M620.26,105.95 h3.8" stroke="#9cc22c" stroke-width="1.1" stroke-opacity="0.7" fill="none"/>
<path d="M642.95,100.65 V123.68 M641.05,100.65 h3.8 M641.05,123.68 h3.8" stroke="#9cc22c" stroke-width="1.1" stroke-opacity="0.7" fill="none"/>
<rect x="60.8" y="32.2" width="276.90" height="276.60" fill="none" stroke="#111" stroke-width="1.7"/>
<path d="M81.63,32.2 v2.8 M81.63,308.8 v-2.8 M93.82,32.2 v2.8 M93.82,308.8 v-2.8 M102.46,32.2 v2.8 M102.46,308.8 v-2.8 M109.17,32.2 v2.8 M109.17,308.8 v-2.8 M114.65,32.2 v2.8 M114.65,308.8 v-2.8 M119.28,32.2 v2.8 M119.28,308.8 v-2.8 M123.29,32.2 v2.8 M123.29,308.8 v-2.8 M126.83,32.2 v2.8 M126.83,308.8 v-2.8 M130.00,32.2 v5.0 M130.00,308.8 v-5.0 M150.83,32.2 v2.8 M150.83,308.8 v-2.8 M163.02,32.2 v2.8 M163.02,308.8 v-2.8 M171.66,32.2 v2.8 M171.66,308.8 v-2.8 M178.37,32.2 v2.8 M178.37,308.8 v-2.8 M183.85,32.2 v2.8 M183.85,308.8 v-2.8 M188.48,32.2 v2.8 M188.48,308.8 v-2.8 M192.49,32.2 v2.8 M192.49,308.8 v-2.8 M196.03,32.2 v2.8 M196.03,308.8 v-2.8 M199.20,32.2 v5.0 M199.20,308.8 v-5.0 M220.03,32.2 v2.8 M220.03,308.8 v-2.8 M232.22,32.2 v2.8 M232.22,308.8 v-2.8 M240.86,32.2 v2.8 M240.86,308.8 v-2.8 M247.57,32.2 v2.8 M247.57,308.8 v-2.8 M253.05,32.2 v2.8 M253.05,308.8 v-2.8 M257.68,32.2 v2.8 M257.68,308.8 v-2.8 M261.69,32.2 v2.8 M261.69,308.8 v-2.8 M265.23,32.2 v2.8 M265.23,308.8 v-2.8 M268.40,32.2 v5.0 M268.40,308.8 v-5.0 M289.23,32.2 v2.8 M289.23,308.8 v-2.8 M301.42,32.2 v2.8 M301.42,308.8 v-2.8 M310.06,32.2 v2.8 M310.06,308.8 v-2.8 M316.77,32.2 v2.8 M316.77,308.8 v-2.8 M322.25,32.2 v2.8 M322.25,308.8 v-2.8 M326.88,32.2 v2.8 M326.88,308.8 v-2.8 M330.89,32.2 v2.8 M330.89,308.8 v-2.8 M334.43,32.2 v2.8 M334.43,308.8 v-2.8 " stroke="#111" stroke-width="1.4" fill="none"/>
<path d="M60.8,297.00 h5 M337.7,297.00 h-5 M60.8,248.94 h5 M337.7,248.94 h-5 M60.8,200.88 h5 M337.7,200.88 h-5 M60.8,152.82 h5 M337.7,152.82 h-5 M60.8,104.76 h5 M337.7,104.76 h-5 M60.8,56.70 h5 M337.7,56.70 h-5 " stroke="#111" stroke-width="1.4" fill="none"/>
<rect x="435.8" y="32.3" width="276.60" height="276.40" fill="none" stroke="#111" stroke-width="1.7"/>
<path d="M456.59,32.3 v2.8 M456.59,308.7 v-2.8 M468.75,32.3 v2.8 M468.75,308.7 v-2.8 M477.37,32.3 v2.8 M477.37,308.7 v-2.8 M484.06,32.3 v2.8 M484.06,308.7 v-2.8 M489.53,32.3 v2.8 M489.53,308.7 v-2.8 M494.15,32.3 v2.8 M494.15,308.7 v-2.8 M498.16,32.3 v2.8 M498.16,308.7 v-2.8 M501.69,32.3 v2.8 M501.69,308.7 v-2.8 M504.85,32.3 v5.0 M504.85,308.7 v-5.0 M525.64,32.3 v2.8 M525.64,308.7 v-2.8 M537.80,32.3 v2.8 M537.80,308.7 v-2.8 M546.42,32.3 v2.8 M546.42,308.7 v-2.8 M553.11,32.3 v2.8 M553.11,308.7 v-2.8 M558.58,32.3 v2.8 M558.58,308.7 v-2.8 M563.20,32.3 v2.8 M563.20,308.7 v-2.8 M567.21,32.3 v2.8 M567.21,308.7 v-2.8 M570.74,32.3 v2.8 M570.74,308.7 v-2.8 M573.90,32.3 v5.0 M573.90,308.7 v-5.0 M594.69,32.3 v2.8 M594.69,308.7 v-2.8 M606.85,32.3 v2.8 M606.85,308.7 v-2.8 M615.47,32.3 v2.8 M615.47,308.7 v-2.8 M622.16,32.3 v2.8 M622.16,308.7 v-2.8 M627.63,32.3 v2.8 M627.63,308.7 v-2.8 M632.25,32.3 v2.8 M632.25,308.7 v-2.8 M636.26,32.3 v2.8 M636.26,308.7 v-2.8 M639.79,32.3 v2.8 M639.79,308.7 v-2.8 M642.95,32.3 v5.0 M642.95,308.7 v-5.0 M663.74,32.3 v2.8 M663.74,308.7 v-2.8 M675.90,32.3 v2.8 M675.90,308.7 v-2.8 M684.52,32.3 v2.8 M684.52,308.7 v-2.8 M691.21,32.3 v2.8 M691.21,308.7 v-2.8 M696.68,32.3 v2.8 M696.68,308.7 v-2.8 M701.30,32.3 v2.8 M701.30,308.7 v-2.8 M705.31,32.3 v2.8 M705.31,308.7 v-2.8 M708.84,32.3 v2.8 M708.84,308.7 v-2.8 " stroke="#111" stroke-width="1.4" fill="none"/>
<path d="M435.8,297.10 h5 M712.4,297.10 h-5 M435.8,251.04 h5 M712.4,251.04 h-5 M435.8,204.98 h5 M712.4,204.98 h-5 M435.8,158.92 h5 M712.4,158.92 h-5 M435.8,112.86 h5 M712.4,112.86 h-5 M435.8,66.80 h5 M712.4,66.80 h-5 " stroke="#111" stroke-width="1.4" fill="none"/>
<circle cx="60.80" cy="296.76" r="3.55" fill="#4fe6f7"/>
<circle cx="178.37" cy="282.34" r="3.55" fill="#4fe6f7"/>
<circle cx="199.20" cy="274.41" r="3.55" fill="#4fe6f7"/>
<circle cx="211.39" cy="249.18" r="3.55" fill="#4fe6f7"/>
<circle cx="220.03" cy="224.91" r="3.55" fill="#4fe6f7"/>
<circle cx="232.22" cy="191.27" r="3.55" fill="#4fe6f7"/>
<circle cx="240.86" cy="163.39" r="3.55" fill="#4fe6f7"/>
<circle cx="247.57" cy="132.39" r="3.55" fill="#4fe6f7"/>
<circle cx="253.05" cy="108.60" r="3.55" fill="#4fe6f7"/>
<circle cx="261.69" cy="81.21" r="3.55" fill="#4fe6f7"/>
<circle cx="268.40" cy="68.72" r="3.55" fill="#4fe6f7"/>
<circle cx="289.23" cy="69.92" r="3.55" fill="#4fe6f7"/>
<circle cx="60.80" cy="296.76" r="3.55" fill="#6212d2"/>
<circle cx="178.37" cy="296.28" r="3.55" fill="#6212d2"/>
<circle cx="199.20" cy="263.84" r="3.55" fill="#6212d2"/>
<circle cx="211.39" cy="236.44" r="3.55" fill="#6212d2"/>
<circle cx="220.03" cy="216.26" r="3.55" fill="#6212d2"/>
<circle cx="232.22" cy="137.92" r="3.55" fill="#6212d2"/>
<circle cx="240.86" cy="101.64" r="3.55" fill="#6212d2"/>
<circle cx="247.57" cy="74.24" r="3.55" fill="#6212d2"/>
<circle cx="253.05" cy="74.24" r="3.55" fill="#6212d2"/>
<circle cx="261.69" cy="75.20" r="3.55" fill="#6212d2"/>
<circle cx="268.40" cy="72.32" r="3.55" fill="#6212d2"/>
<circle cx="289.23" cy="74.24" r="3.55" fill="#6212d2"/>
<circle cx="60.80" cy="293.64" r="3.55" fill="#9cc22c"/>
<circle cx="130.00" cy="297.00" r="3.55" fill="#9cc22c"/>
<circle cx="150.83" cy="263.84" r="3.55" fill="#9cc22c"/>
<circle cx="163.02" cy="239.81" r="3.55" fill="#9cc22c"/>
<circle cx="178.37" cy="214.82" r="3.55" fill="#9cc22c"/>
<circle cx="190.55" cy="172.04" r="3.55" fill="#9cc22c"/>
<circle cx="199.20" cy="136.72" r="3.55" fill="#9cc22c"/>
<circle cx="211.39" cy="92.26" r="3.55" fill="#9cc22c"/>
<circle cx="220.03" cy="72.08" r="3.55" fill="#9cc22c"/>
<circle cx="232.22" cy="65.83" r="3.55" fill="#9cc22c"/>
<circle cx="240.86" cy="64.63" r="3.55" fill="#9cc22c"/>
<circle cx="268.40" cy="62.95" r="3.55" fill="#9cc22c"/>
<circle cx="435.80" cy="297.10" r="3.55" fill="#4fe6f7"/>
<circle cx="553.11" cy="276.83" r="3.55" fill="#4fe6f7"/>
<circle cx="573.90" cy="264.63" r="3.55" fill="#4fe6f7"/>
<circle cx="586.06" cy="249.20" r="3.55" fill="#4fe6f7"/>
<circle cx="594.69" cy="236.53" r="3.55" fill="#4fe6f7"/>
<circle cx="606.85" cy="217.19" r="3.55" fill="#4fe6f7"/>
<circle cx="615.47" cy="198.30" r="3.55" fill="#4fe6f7"/>
<circle cx="622.16" cy="184.48" r="3.55" fill="#4fe6f7"/>
<circle cx="627.63" cy="169.74" r="3.55" fill="#4fe6f7"/>
<circle cx="636.26" cy="146.71" r="3.55" fill="#4fe6f7"/>
<circle cx="642.95" cy="73.71" r="3.55" fill="#4fe6f7"/>
<circle cx="663.74" cy="66.57" r="3.55" fill="#4fe6f7"/>
<circle cx="553.11" cy="247.36" r="3.55" fill="#6212d2"/>
<circle cx="573.90" cy="238.37" r="3.55" fill="#6212d2"/>
<circle cx="586.06" cy="218.80" r="3.55" fill="#6212d2"/>
<circle cx="594.69" cy="181.95" r="3.55" fill="#6212d2"/>
<circle cx="606.85" cy="142.57" r="3.55" fill="#6212d2"/>
<circle cx="615.47" cy="124.84" r="3.55" fill="#6212d2"/>
<circle cx="622.16" cy="191.16" r="3.55" fill="#6212d2"/>
<circle cx="627.63" cy="109.18" r="3.55" fill="#6212d2"/>
<circle cx="636.26" cy="60.35" r="3.55" fill="#6212d2"/>
<circle cx="642.95" cy="61.50" r="3.55" fill="#6212d2"/>
<circle cx="663.74" cy="114.01" r="3.55" fill="#6212d2"/>
<circle cx="504.85" cy="283.28" r="3.55" fill="#9cc22c"/>
<circle cx="525.64" cy="254.03" r="3.55" fill="#9cc22c"/>
<circle cx="537.80" cy="265.32" r="3.55" fill="#9cc22c"/>
<circle cx="553.11" cy="227.09" r="3.55" fill="#9cc22c"/>
<circle cx="565.27" cy="208.90" r="3.55" fill="#9cc22c"/>
<circle cx="573.90" cy="177.57" r="3.55" fill="#9cc22c"/>
<circle cx="586.06" cy="141.19" r="3.55" fill="#9cc22c"/>
<circle cx="594.69" cy="66.34" r="3.55" fill="#9cc22c"/>
<circle cx="606.85" cy="97.66" r="3.55" fill="#9cc22c"/>
<circle cx="622.16" cy="94.44" r="3.55" fill="#9cc22c"/>
<circle cx="642.95" cy="112.17" r="3.55" fill="#9cc22c"/>
<text x="2.5" y="17.6" class="pl">A</text>
<text x="383.7" y="17.7" class="pl">B</text>
<text x="199.3" y="350.2" text-anchor="middle" class="xt">Lipid concentration, µM</text>
<text x="574.1" y="350.2" text-anchor="middle" class="xt">Lipid concentration, µM</text>
<text transform="translate(13.8,331.5) rotate(-90)" class="yta">Fraction of membrane-bound protein (NMR)</text>
<text transform="translate(393.9,301) rotate(-90)" class="ytb">Fraction of fluorescence change</text>
</svg>
</body></html>
